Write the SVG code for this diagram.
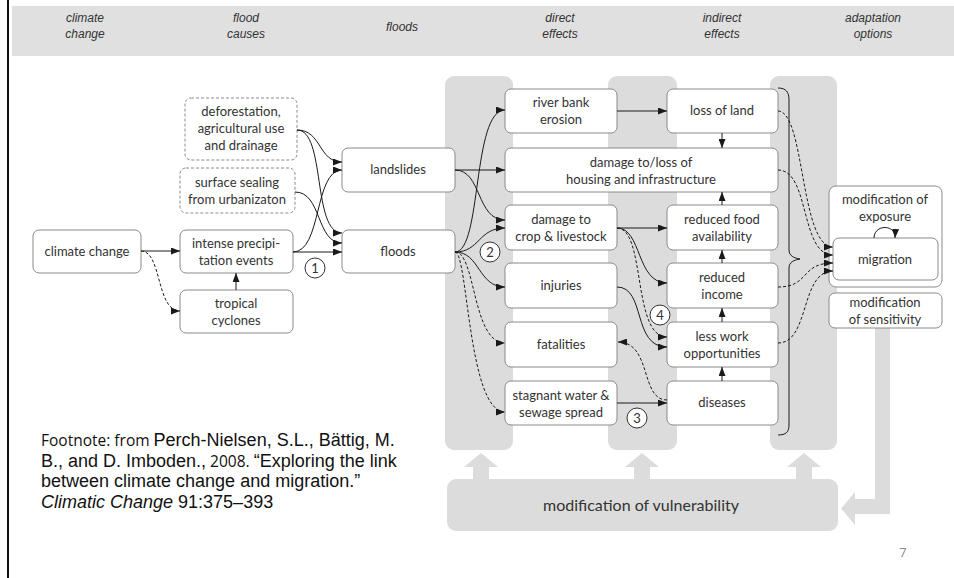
<svg xmlns="http://www.w3.org/2000/svg" width="954" height="578" viewBox="0 0 954 578">
<defs>
<marker id="ah" markerWidth="9" markerHeight="7" refX="9" refY="3.5" orient="auto" markerUnits="userSpaceOnUse"><path d="M0,0 L9,3.5 L0,7 Z" fill="#1a1a1a"/></marker>
<style>
.hd{font-family:"Liberation Sans",Arial,sans-serif;font-style:italic;font-size:12px;fill:#333;text-anchor:middle}
.bx{fill:#fff;stroke:#8a8a8a;stroke-width:1}
.dbx{fill:#fff;stroke:#8a8a8a;stroke-width:1;stroke-dasharray:3,2}
.t{font-family:Lato,"Open Sans",sans-serif;font-size:13px;fill:#333;text-anchor:middle}
.c{fill:none;stroke:#1a1a1a;stroke-width:1;marker-end:url(#ah)}
.d{stroke-dasharray:3,2}
.col{fill:#dcdcdc}
.num{fill:#fff;stroke:#333;stroke-width:1}
.fn{font-family:"Liberation Sans",Arial,sans-serif;font-size:18px;fill:#111}
.fs{font-family:"Open Sans",sans-serif;font-size:15.5px}
</style>
</defs>
<rect x="7" y="0" width="2" height="578" fill="#111"/>
<rect x="12" y="6" width="942" height="50" fill="#e0e0e0"/>
<g id="header">
<text class="hd" x="85" y="22">climate</text><text class="hd" x="85" y="38">change</text>
<text class="hd" x="246" y="22">flood</text><text class="hd" x="246" y="38">causes</text>
<text class="hd" x="402" y="31">floods</text>
<text class="hd" x="560" y="22">direct</text><text class="hd" x="560" y="38">effects</text>
<text class="hd" x="722" y="22">indirect</text><text class="hd" x="722" y="38">effects</text>
<text class="hd" x="873" y="22">adaptation</text><text class="hd" x="873" y="38">options</text>
</g>
<g id="columns">
<rect class="col" x="445" y="76" width="68" height="374" rx="9"/>
<rect class="col" x="608" y="76" width="69" height="374" rx="9"/>
<rect class="col" x="770" y="76" width="67" height="374" rx="9"/>
<rect class="col" x="875" y="328" width="15" height="186"/>
<rect class="col" x="855" y="499" width="35" height="15"/>
<path class="col" d="M855,492 L841,508.5 L855,525 Z"/>
<path class="col" d="M464,467 L481,453 L498,467 L489,467 L489,480 L473,480 L473,467 Z"/>
<path class="col" d="M625,467 L642,453 L659,467 L650,467 L650,480 L634,480 L634,467 Z"/>
<path class="col" d="M787,467 L804,453 L821,467 L812,467 L812,480 L796,480 L796,467 Z"/>
</g>
<g id="vulnerability">
<rect class="col" x="447" y="479" width="391" height="52" rx="9"/>
<text x="641" y="511" font-family="Lato,'Open Sans',sans-serif" font-size="16" fill="#333" text-anchor="middle">modification of vulnerability</text>
</g>
<g id="n-climate"><rect class="bx" x="33" y="230" width="108" height="43" rx="6"/><text class="t" x="87" y="256">climate change</text></g>
<g id="n-intense"><rect class="bx" x="180" y="230" width="113" height="43" rx="6"/><text class="t" x="236" y="248">intense precipi-</text><text class="t" x="236" y="265">tation events</text></g>
<g id="n-tropical"><rect class="bx" x="180" y="290" width="113" height="43" rx="6"/><text class="t" x="236" y="308">tropical</text><text class="t" x="236" y="325">cyclones</text></g>
<g id="n-deforest"><rect class="dbx" x="185" y="98" width="112" height="62" rx="6"/><text class="t" x="241" y="116">deforestation,</text><text class="t" x="241" y="133">agricultural use</text><text class="t" x="241" y="150">and drainage</text></g>
<g id="n-sealing"><rect class="dbx" x="180" y="168" width="115" height="45" rx="6"/><text class="t" x="237" y="187">surface sealing</text><text class="t" x="237" y="204">from urbanizaton</text></g>
<g id="n-landslides"><rect class="bx" x="342" y="148" width="113" height="44" rx="6"/><text class="t" x="398" y="174">landslides</text></g>
<g id="n-floods"><rect class="bx" x="342" y="230" width="113" height="43" rx="6"/><text class="t" x="398" y="256">floods</text></g>
<g id="n-riverbank"><rect class="bx" x="505" y="89" width="112" height="44" rx="6"/><text class="t" x="561" y="107">river bank</text><text class="t" x="561" y="124">erosion</text></g>
<g id="n-housing"><rect class="bx" x="505" y="148" width="273" height="44" rx="6"/><text class="t" x="641" y="167">damage to/loss of</text><text class="t" x="641" y="184">housing and infrastructure</text></g>
<g id="n-crop"><rect class="bx" x="505" y="205" width="112" height="45" rx="6"/><text class="t" x="561" y="224">damage to</text><text class="t" x="561" y="241">crop &amp; livestock</text></g>
<g id="n-injuries"><rect class="bx" x="505" y="263" width="112" height="45" rx="6"/><text class="t" x="561" y="290">injuries</text></g>
<g id="n-fatalities"><rect class="bx" x="505" y="322" width="112" height="45" rx="6"/><text class="t" x="561" y="349">fatalities</text></g>
<g id="n-stagnant"><rect class="bx" x="505" y="381" width="112" height="44" rx="6"/><text class="t" x="561" y="400">stagnant water &amp;</text><text class="t" x="561" y="417">sewage spread</text></g>
<g id="n-lossland"><rect class="bx" x="667" y="89" width="111" height="44" rx="6"/><text class="t" x="722" y="115">loss of land</text></g>
<g id="n-food"><rect class="bx" x="667" y="205" width="111" height="45" rx="6"/><text class="t" x="722" y="224">reduced food</text><text class="t" x="722" y="241">availability</text></g>
<g id="n-income"><rect class="bx" x="667" y="263" width="111" height="45" rx="6"/><text class="t" x="722" y="282">reduced</text><text class="t" x="722" y="299">income</text></g>
<g id="n-lesswork"><rect class="bx" x="667" y="322" width="111" height="45" rx="6"/><text class="t" x="722" y="341">less work</text><text class="t" x="722" y="358">opportunities</text></g>
<g id="n-diseases"><rect class="bx" x="667" y="381" width="111" height="44" rx="6"/><text class="t" x="722" y="407">diseases</text></g>
<g id="n-exposure"><rect class="bx" x="829" y="186" width="113" height="101" rx="7"/><text class="t" x="885" y="204">modification of</text><text class="t" x="885" y="221">exposure</text></g>
<g id="n-migration"><rect class="bx" x="833" y="238" width="105" height="42" rx="6"/><text class="t" x="885" y="264">migration</text></g>
<g id="n-sensitivity"><rect class="bx" x="829" y="293" width="113" height="35" rx="6"/><text class="t" x="885" y="307">modification</text><text class="t" x="885" y="324">of sensitivity</text></g>
<g id="connectors">
<path class="c" d="M141,251 L180,251"/>
<path class="c d" d="M141,251 C162,251 156,311 180,311"/>
<path class="c" d="M236,290 L236,273"/>
<path class="c" d="M293,252 L342,252"/>
<path class="c" d="M293,252 C322,252 314,170 342,170"/>
<path class="c" d="M297,130 C322,130 318,162 342,162"/>
<path class="c" d="M297,130 C326,130 312,233 342,233"/>
<path class="c" d="M295,192 C322,192 316,243 342,243"/>
<path class="c" d="M455,170 L505,170"/>
<path class="c" d="M455,170 C482,170 476,220 505,220"/>
<path class="c" d="M455,252 C482,252 472,110 505,110"/>
<path class="c" d="M455,252 C480,252 478,228 505,228"/>
<path class="c" d="M455,252 C480,252 478,287 505,287"/>
<path class="c d" d="M455,252 C476,252 472,343 505,343"/>
<path class="c d" d="M455,252 C468,252 468,412 505,412"/>
<path class="c" d="M617,111 L667,111"/>
<path class="c" d="M617,228 L667,228"/>
<path class="c" d="M617,228 C642,228 636,283 667,283"/>
<path class="c d" d="M617,228 C646,228 632,337 667,337"/>
<path class="c" d="M617,287 C646,287 632,347 667,347"/>
<path class="c d" d="M667,400 C640,400 652,342 618,342"/>
<path class="c" d="M617,403 L667,403"/>
<path class="c" d="M722,133 L722,148"/>
<path class="c" d="M722,205 L722,192"/>
<path class="c" d="M722,263 L722,250"/>
<path class="c" d="M722,322 L722,308"/>
<path class="c" d="M722,381 L722,367"/>
<path class="c d" d="M778,111 C805,111 800,247 833,247"/>
<path class="c d" d="M778,170 C810,170 800,255 833,255"/>
<path class="c d" d="M778,287 C810,287 800,263 833,263"/>
<path class="c d" d="M778,343 C810,343 800,271 833,271"/>
<path fill="none" stroke="#1a1a1a" stroke-width="1" d="M778,88 C786,88 789,92 789,100 L789,250 C789,256 794,258 800,259 C794,260 789,262 789,268 L789,425 C789,432 786,435 778,435"/>
<path class="c" d="M874,238 C874,224 896,224 895,238"/>
</g>
<g id="labels">
<circle class="num" cx="315" cy="268" r="10"/><text class="t" x="315" y="273">1</text>
<circle class="num" cx="490" cy="252" r="10"/><text class="t" x="490" y="257">2</text>
<circle class="num" cx="637" cy="418" r="10"/><text class="t" x="637" y="423">3</text>
<circle class="num" cx="660" cy="315" r="10"/><text class="t" x="660" y="320">4</text>
</g>
<g id="footnote">
<text class="fn" x="41" y="446"><tspan class="fs">Footnote:  from </tspan>Perch-Nielsen, S.L., Bättig, M.</text>
<text class="fn" x="41" y="467">B., and D. Imboden.,<tspan class="fs"> 2008. </tspan>“Exploring the link</text>
<text class="fn" x="41" y="487">between climate change and migration.”</text>
<text class="fn" x="41" y="508"><tspan font-style="italic">Climatic Change</tspan> 91:375–393</text>
</g>
<text x="903" y="557" font-family="'Open Sans',sans-serif" font-size="13" fill="#888" text-anchor="middle">7</text>
</svg>
